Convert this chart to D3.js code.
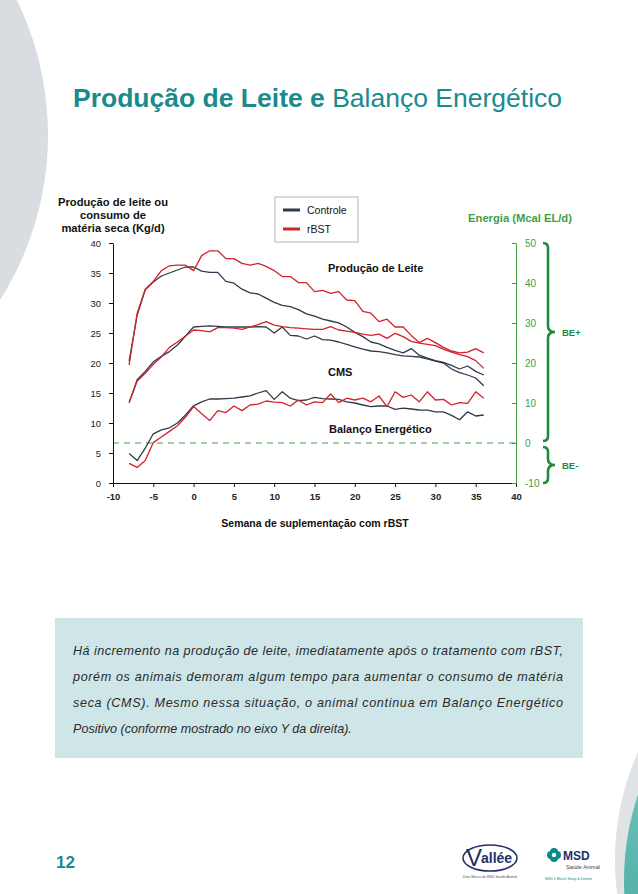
<!DOCTYPE html>
<html>
<head>
<meta charset="utf-8">
<script src="https://cdn.jsdelivr.net/npm/d3@7"></script>
<style>
  body { margin: 0; background: #fff; }
  svg { display: block; }
</style>
</head>
<body>
<div id="chart"></div>
<script>
// semanas (eixo X)
var weeks = d3.range(-8, 37);

// producao de leite (kg/d)
var milkControle = [20.3, 28.0, 32.2, 33.5, 34.5, 35.0, 35.5, 36.0, 36.0, 35.3, 35.1, 35.1, 33.6, 33.3, 32.3, 31.7, 31.5,
  30.8, 30.1, 29.6, 29.4, 28.9, 28.2, 27.8, 27.3, 27.0, 26.7, 26.0, 25.1, 24.4, 23.5, 23.2, 22.6, 22.1, 21.7,
  22.4, 21.3, 20.8, 20.4, 20.1, 19.6, 19.0, 19.5, 18.6, 18.0];
var milkRbst = [19.7, 28.3, 32.3, 33.6, 35.4, 36.2, 36.3, 36.3, 35.4, 37.9, 38.7, 38.7, 37.4, 37.4, 36.6, 36.3, 36.6,
  36.1, 35.4, 34.4, 34.4, 33.4, 33.4, 31.9, 32.1, 31.6, 31.9, 30.5, 30.4, 28.6, 28.3, 26.9, 27.3, 26.0, 26.0,
  24.6, 23.4, 24.1, 23.4, 22.6, 22.0, 21.7, 21.8, 22.4, 21.7];

// consumo de materia seca (kg/d)
var cmsControle = [13.4, 17.2, 18.6, 20.2, 21.1, 21.9, 23.0, 24.5, 26.0, 26.1, 26.2, 26.1, 26.0, 26.0, 26.0, 26.0, 26.05,
  26.0, 25.0, 26.0, 24.6, 24.5, 24.0, 24.5, 23.9, 23.8, 23.5, 23.1, 22.7, 22.3, 22.0, 21.9, 21.7, 21.4, 21.2,
  21.1, 21.0, 20.7, 20.3, 20.0, 19.0, 18.4, 18.0, 17.5, 16.2];
var cmsRbst = [13.4, 17.0, 18.3, 19.8, 21.0, 22.6, 23.5, 24.5, 25.5, 25.4, 25.2, 25.9, 25.9, 25.8, 25.6, 26.0, 26.4,
  26.9, 26.3, 26.05, 25.9, 25.8, 25.7, 25.6, 25.6, 26.05, 25.5, 25.3, 25.1, 24.8, 24.6, 24.8, 24.1, 24.95, 24.4,
  23.6, 23.3, 23.1, 22.9, 22.3, 21.8, 21.4, 21.05, 20.4, 19.1];

// balanco energetico (Mcal EL/d), eixo da direita
var beControle = [-2.6, -4.4, -1.3, 2.3, 3.3, 3.8, 5.0, 7.0, 9.3, 10.3, 11.0, 11.0, 11.1, 11.2, 11.5, 11.8, 12.5,
  13.1, 10.9, 12.8, 11.2, 10.6, 10.75, 11.4, 11.1, 11.0, 10.9, 10.3, 10.0, 9.5, 9.1, 9.25, 9.25, 8.4, 8.7,
  8.5, 8.25, 8.2, 7.8, 7.8, 6.9, 5.8, 7.8, 6.75, 7.0];
var beRbst = [-5.1, -6.1, -4.4, 0.1, 1.5, 2.9, 4.3, 6.5, 9.1, 7.3, 5.6, 8.1, 7.6, 9.25, 8.1, 9.5, 9.7,
  10.5, 10.2, 10.1, 9.25, 10.75, 9.5, 10.3, 10.1, 12.25, 10.1, 11.2, 10.75, 11.2, 10.3, 11.75, 9.1, 12.8, 11.4,
  12.0, 10.3, 12.8, 10.75, 10.9, 9.5, 10.1, 9.9, 12.8, 11.2];

var xTicks = d3.range(-10, 41, 5);
var yTicks = d3.range(0, 41, 5);
var eTicks = d3.range(-10, 51, 10);

var paragraph = [
  "Há incremento na produção de leite, imediatamente após o tratamento com rBST,",
  "porém os animais demoram algum tempo para aumentar o consumo de matéria",
  "seca (CMS). Mesmo nessa situação, o animal continua em Balanço Energético",
  "Positivo (conforme mostrado no eixo Y da direita)."
];

var teal = "#1a8b8d";
var green = "#3f9e43";
var darkGreen = "#1d8a3c";
var colControle = "#2f3b4a";
var colRbst = "#d2222b";
var narrow = "'Liberation Sans Narrow', 'Arial Narrow', 'Liberation Sans', Arial, sans-serif";
var sans = "'Liberation Sans', Arial, Helvetica, sans-serif";
var plain = function(d) { return String(d); };

var svg = d3.select("#chart").append("svg")
  .attr("width", 638)
  .attr("height", 894);

svg.append("rect").attr("width", 638).attr("height", 894).attr("fill", "#fff");

// decoracao lateral
svg.append("circle").attr("cx", -260).attr("cy", 135).attr("r", 308).attr("fill", "#d9dde1");
svg.append("circle").attr("cx", 880).attr("cy", 860).attr("r", 265).attr("fill", "#dfe3e6");
var grad = svg.append("defs").append("linearGradient").attr("id", "tg")
  .attr("x1", "0").attr("y1", "0").attr("x2", "0").attr("y2", "1");
grad.append("stop").attr("offset", "0").attr("stop-color", "#8fd0cc");
grad.append("stop").attr("offset", "1").attr("stop-color", "#1f9a8e");
svg.append("circle").attr("cx", 892).attr("cy", 880).attr("r", 268).attr("fill", "url(#tg)");

// titulo
var title = svg.append("text").attr("x", 73).attr("y", 107)
  .attr("font-family", sans).attr("font-size", 26.5).attr("fill", teal);
title.append("tspan").attr("font-weight", "bold").text("Produção de Leite e ");
title.append("tspan").text("Balanço Energético");

// escalas
var x = d3.scaleLinear().domain([-10, 40]).range([113, 516]);
var y = d3.scaleLinear().domain([0, 40]).range([483, 243]);
var yE = d3.scaleLinear().domain([-10, 50]).range([483, 243]);

// linha de zero do balanco
svg.append("line")
  .attr("x1", x(-10)).attr("x2", x(40))
  .attr("y1", yE(0)).attr("y2", yE(0))
  .attr("stroke", green).attr("stroke-width", 1.2)
  .attr("stroke-dasharray", "6,5");

// eixo Y esquerda
var gy = svg.append("g")
  .attr("transform", "translate(" + x(-10) + ",0)")
  .call(d3.axisLeft(y).tickValues(yTicks).tickFormat(plain).tickSize(4).tickSizeOuter(0).tickPadding(8));
gy.selectAll("text").attr("font-family", narrow).attr("font-size", 9.5).attr("fill", "#222");
gy.selectAll("line, path").attr("stroke", "#111");

// eixo X
var gx = svg.append("g")
  .attr("transform", "translate(0," + y(0) + ")")
  .call(d3.axisBottom(x).tickValues(xTicks).tickFormat(plain).tickSize(4).tickSizeOuter(0).tickPadding(6));
gx.selectAll("text").attr("font-family", narrow).attr("font-size", 9.5).attr("font-weight", "bold").attr("fill", "#222");
gx.selectAll("line, path").attr("stroke", "#111");

// eixo Y direita (energia)
var ge = svg.append("g")
  .attr("transform", "translate(" + x(40) + ",0)")
  .call(d3.axisRight(yE).tickValues(eTicks).tickFormat(plain).tickSizeInner(-4).tickSizeOuter(0).tickPadding(9));
ge.selectAll("text").attr("font-family", narrow).attr("font-size", 10).attr("fill", green);
ge.selectAll("line, path").attr("stroke", green);

// linhas
var line = d3.line()
  .x(function(d) { return x(d[0]); })
  .y(function(d) { return d[2](d[1]); });

function series(vals, scale) {
  return weeks.map(function(w, i) { return [w, vals[i], scale]; });
}

var lines = [
  [milkControle, y, colControle], [milkRbst, y, colRbst],
  [cmsControle, y, colControle], [cmsRbst, y, colRbst],
  [beControle, yE, colControle], [beRbst, yE, colRbst]
];
lines.forEach(function(l) {
  svg.append("path")
    .attr("d", line(series(l[0], l[1])))
    .attr("fill", "none")
    .attr("stroke", l[2])
    .attr("stroke-width", 1.3)
    .attr("stroke-linejoin", "round");
});

// rotulos internos
[["Produção de Leite", 328, 272], ["CMS", 328, 376], ["Balanço Energético", 329, 433]].forEach(function(t) {
  svg.append("text").attr("x", t[1]).attr("y", t[2])
    .attr("font-family", sans).attr("font-weight", "bold").attr("font-size", 11)
    .attr("fill", "#111").text(t[0]);
});

// titulo eixo esquerdo
["Produção de leite ou", "consumo de", "matéria seca (Kg/d)"].forEach(function(t, i) {
  svg.append("text").attr("x", 113).attr("y", 206 + i * 13)
    .attr("text-anchor", "middle")
    .attr("font-family", narrow).attr("font-weight", "bold").attr("font-size", 11.2)
    .attr("fill", "#111").text(t);
});

// titulo eixo X
svg.append("text").attr("x", 315).attr("y", 527)
  .attr("text-anchor", "middle")
  .attr("font-family", sans).attr("font-weight", "bold").attr("font-size", 10.5)
  .attr("fill", "#111").text("Semana de suplementação com rBST");

// titulo eixo direita
svg.append("text").attr("x", 520).attr("y", 222)
  .attr("text-anchor", "middle")
  .attr("font-family", narrow).attr("font-weight", "bold").attr("font-size", 11.2)
  .attr("fill", green).text("Energia (Mcal EL/d)");

// legenda
var leg = svg.append("g");
leg.append("rect").attr("x", 275).attr("y", 197).attr("width", 83).attr("height", 45)
  .attr("fill", "#fff").attr("stroke", "#b5b5b5");
[["Controle", colControle, 210], ["rBST", colRbst, 229]].forEach(function(l) {
  leg.append("line").attr("x1", 283).attr("x2", 300).attr("y1", l[2]).attr("y2", l[2])
    .attr("stroke", l[1]).attr("stroke-width", 3);
  leg.append("text").attr("x", 307).attr("y", l[2] + 3.5)
    .attr("font-family", narrow).attr("font-size", 10.5).attr("fill", "#111").text(l[0]);
});

// chaves BE+ / BE-
function brace(bx, y0, y1, ym) {
  return "M" + (bx - 5) + "," + y0 + " Q" + bx + "," + y0 + " " + bx + "," + (y0 + 5) +
    " L" + bx + "," + (ym - 6) + " Q" + bx + "," + ym + " " + (bx + 7) + "," + ym +
    " Q" + bx + "," + ym + " " + bx + "," + (ym + 6) +
    " L" + bx + "," + (y1 - 5) + " Q" + bx + "," + y1 + " " + (bx - 5) + "," + y1;
}
svg.append("path").attr("d", brace(548, yE(50), yE(0) - 2, 332))
  .attr("fill", "none").attr("stroke", darkGreen).attr("stroke-width", 2.6);
svg.append("path").attr("d", brace(548, yE(0) + 4, yE(-10), 465))
  .attr("fill", "none").attr("stroke", darkGreen).attr("stroke-width", 2.6);
[["BE+", 336], ["BE-", 469]].forEach(function(t) {
  svg.append("text").attr("x", 562).attr("y", t[1])
    .attr("font-family", sans).attr("font-weight", "bold").attr("font-size", 9.5)
    .attr("fill", darkGreen).text(t[0]);
});

// caixa de texto
svg.append("rect").attr("x", 55).attr("y", 618).attr("width", 528).attr("height", 140)
  .attr("fill", "#cfe6e8");
paragraph.forEach(function(t, i) {
  var tx = svg.append("text").attr("x", 73).attr("y", 655 + i * 26)
    .attr("font-family", sans).attr("font-style", "italic").attr("font-size", 12.6)
    .attr("fill", "#2a2a2a").text(t);
  if (i < paragraph.length - 1) {
    tx.attr("textLength", 490).attr("lengthAdjust", "spacing");
  }
});

// rodape
svg.append("text").attr("x", 56).attr("y", 868)
  .attr("font-family", sans).attr("font-weight", "bold").attr("font-size", 17)
  .attr("fill", teal).text("12");

// logo Vallee
var navy = "#23306b";
svg.append("ellipse").attr("cx", 490).attr("cy", 858).attr("rx", 27).attr("ry", 13)
  .attr("fill", "none").attr("stroke", navy).attr("stroke-width", 1.6);
svg.append("text").attr("x", 466).attr("y", 866)
  .attr("font-family", sans).attr("font-size", 24).attr("fill", navy).text("V");
svg.append("text").attr("x", 481).attr("y", 863)
  .attr("font-family", sans).attr("font-weight", "bold").attr("font-size", 14)
  .attr("fill", navy).text("allée");
svg.append("text").attr("x", 490).attr("y", 878).attr("text-anchor", "middle")
  .attr("font-family", sans).attr("font-size", 3.5).attr("fill", "#555")
  .text("Uma Marca da MSD Saúde Animal");

// logo MSD
var mg = svg.append("g").attr("transform", "translate(554,855)");
mg.append("circle").attr("cx", -3).attr("cy", 0).attr("r", 4).attr("fill", "#0a8a8a");
mg.append("circle").attr("cx", 3).attr("cy", 0).attr("r", 4).attr("fill", "#0a8a8a");
mg.append("circle").attr("cx", 0).attr("cy", -3).attr("r", 4).attr("fill", "#0a8a8a");
mg.append("circle").attr("cx", 0).attr("cy", 3).attr("r", 4).attr("fill", "#0a8a8a");
mg.append("circle").attr("cx", 0).attr("cy", 0).attr("r", 2.2).attr("fill", "#fff");
svg.append("text").attr("x", 563).attr("y", 860)
  .attr("font-family", sans).attr("font-weight", "bold").attr("font-size", 12)
  .attr("fill", navy).text("MSD");
svg.append("text").attr("x", 566).attr("y", 869)
  .attr("font-family", sans).attr("font-size", 5.5).attr("fill", "#444").text("Saúde Animal");
svg.append("text").attr("x", 545).attr("y", 880)
  .attr("font-family", sans).attr("font-size", 3.5).attr("fill", "#0a8a8a")
  .text("MSD é Merck Sharp & Dohme");
</script>
</body>
</html>
